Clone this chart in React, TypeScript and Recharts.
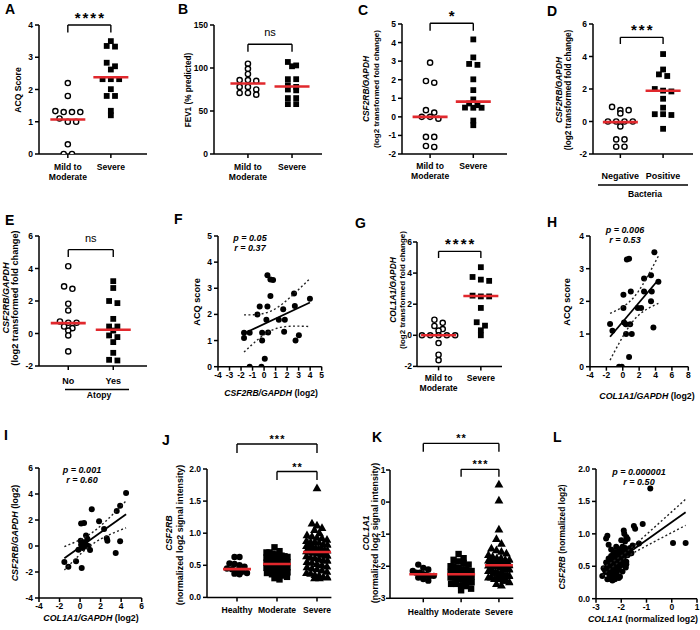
import React from "react";
import { ScatterChart, Scatter, XAxis, YAxis, ReferenceLine, ReferenceDot } from "recharts";

const FONT = '"Liberation Sans", Arial, Helvetica, sans-serif';
const RED = "#e1282d";
const AXIS = { stroke: "#000", strokeWidth: 1.5 };
const TICK = { fill: "#000", fontSize: 8.5, fontWeight: 700, fontFamily: FONT };

// category names
const sevCats = ["Mild to\nModerate", "Severe"];
const bacCats = ["Negative", "Positive"];
const atoCats = ["No", "Yes"];
const cohortCats = ["Healthy", "Moderate", "Severe"];

// A - ACQ score
const acqMild = [2.2, 1.8, 1.33, 1.3, 1.3, 1.3, 1.1, 1.0, 1.0, 0.3, 0, 0];
const acqSevere = [3.5, 3.35, 3.33, 2.83, 2.72, 2.62, 2.32, 2.32, 2.32, 2.01, 1.8, 1.8, 1.34, 1.2];
const acqMedian = [1.07, 2.38];

// B - FEV1 % predicted
const fevMild = [105, 99, 93, 86, 85, 86, 78, 78, 75, 71, 71, 69];
const fevSevere = [107, 103, 102, 87, 87, 80, 78, 75, 74, 65, 65, 58, 58];
const fevMedian = [82, 78.5];

// C - CSF2RB by severity
const csfMild = [2.92, 1.93, 1.84, 0.36, 0.23, 0, -0.1, 0, -1.08, -1.08, -1.57, -1.62];
const csfSevere = [4.17, 3.2, 2.85, 2.8, 2.02, 1.44, 0.94, 0.72, 0.63, 0.5, 0.49, 0.49, -0.2, -0.45];
const csfMedian = [0, 0.82];

// D - CSF2RB by bacteria
const bacNeg = [0.9, 0.7, 0.7, 0.5, 0, 0, 0, 0, -0.3, -1.1, -1.1, -1.55, -1.55];
const bacPos = [4.15, 3.2, 2.9, 2.8, 2.0, 1.9, 1.85, 1.4, 0.85, 0.45, 0.4, 0.45, -0.45];
const bacMedian = [-0.04, 1.89];

// E - CSF2RB by atopy
const atoNo = [4.14, 2.9, 2.75, 1.83, 1.42, 0.74, 0.66, 0.66, 0.43, 0.33, 0.18, -0.12, -1.1];
const atoYes = [3.22, 2.8, 2.0, 1.87, 0.9, 0.43, 0.43, 0.18, -0.12, -0.22, -0.53, -1.19, -1.62, -1.66];
const atoMedian = [0.64, 0.23];

// F - ACQ vs CSF2RB
const fX = [-1.74, -1.74, -1.25, -1.25, -0.58, -0.38, -0.17, -0.17, -0.23, 0.06, 0.29, 0.55, 0.78, 0.55, 0.29, 0.2, 0.35, 1.28, 1.66, 1.8, 1.74, 2.6, 2.67, 2.73, 3.02, 3.98];
const fY = [1.3, 1.1, 1.3, 0, 2.0, 2.3, 1.3, 1.0, 0, 0.3, 3.5, 3.34, 3.32, 2.7, 2.3, 1.8, 1.31, 1.8, 2.2, 1.8, 1.34, 2.8, 2.32, 1.0, 1.2, 2.6];

// G - COL1A1 by severity
const colMild = [1.0, 0.8, 0.6, 0.4, 0.3, 0, 0, 0, 0, 0, -0.5, -1.25, -1.6];
const colSevere = [4.38, 3.75, 3.58, 3.5, 2.55, 2.5, 2.5, 1.76, 0.84, 0.62, 0.32, 0];
const colMedian = [0, 2.53];

// H - ACQ vs COL1A1
const hX = [-1.55, -1.26, -0.45, -0.12, 0.08, 0.08, 0.16, 0.37, 0.5, 0.77, 0.9, 0.98, 0.4, 1.1, 0.77, 1.83, 2.24, 2.6, 2.6, 3.45, 3.54, 3.45, 3.74, 3.86, 4.35];
const hY = [1.31, 1.1, 0, 0, 2.2, 1.8, 1.35, 1.3, 3.28, 3.3, 1.3, 2.3, 1.0, 1.0, 0.3, 1.8, 1.8, 2.7, 2.3, 2.8, 2.3, 2.0, 1.2, 3.5, 2.6];

// I - CSF2RB vs COL1A1
const iX = [-1.53, -1.14, -0.39, 0.16, 0.1, 0.39, 1.14, 0.06, 0.1, 0.26, 0.58, 0.71, 0.58, 0.81, 0.97, 0.7, 1.85, 2.34, 2.6, 2.66, 3.47, 3.57, 3.9, 3.9, 4.48, 0.4, -0.16];
const iY = [-1.23, -1.6, -1.18, -1.7, 1.74, 1.77, 2.82, 0.4, 0.1, -0.15, 0.8, 0.56, 0.1, 0, -0.3, -0.03, 1.9, 1.3, 0.6, 0.4, -0.54, 2.7, 3.1, 0.36, 4.07, 0.28, -0.28];

// J / K / L - microarray cohort, one entry per subject (same order in j* and k*)
const jHealthy = [0.63, 0.63, 0.53, 0.52, 0.5, 0.48, 0.45, 0.44, 0.42, 0.4, 0.38, 0.37, 0.36];
const kHealthy = [-2.05, -2.15, -1.95, -2.2, -2.3, -2.1, -2.25, -2.35, -2.4, -2.2, -2.45, -2.3, -2.28];
const jModerate = [0.78, 0.72, 0.7, 0.7, 0.68, 0.67, 0.66, 0.65, 0.64, 0.63, 0.62, 0.61, 0.6, 0.6, 0.58, 0.57, 0.56, 0.55, 0.54, 0.53, 0.53, 0.52, 0.52, 0.51, 0.5, 0.5, 0.49, 0.48, 0.47, 0.46, 0.45, 0.45, 0.44, 0.43, 0.42, 0.41, 0.4, 0.39, 0.38, 0.36, 0.35, 0.34, 0.32, 0.3, 0.28];
const kModerate = [-1.85, -2.0, -1.62, -2.3, -1.75, -2.1, -2.4, -1.9, -2.2, -2.05, -2.5, -1.95, -2.25, -2.15, -2.35, -2.0, -2.6, -2.1, -2.28, -1.8, -2.45, -2.2, -2.32, -2.05, -2.55, -2.27, -2.15, -2.38, -2.7, -2.25, -2.1, -2.42, -2.3, -2.5, -2.2, -2.62, -2.35, -2.18, -2.48, -2.3, -2.75, -2.4, -2.27, -2.55, -2.35];
const jSevere = [1.7, 1.15, 1.12, 1.08, 1.05, 1.0, 0.97, 0.95, 0.93, 0.92, 0.9, 0.88, 0.86, 0.86, 0.85, 0.83, 0.82, 0.8, 0.8, 0.78, 0.77, 0.76, 0.75, 0.74, 0.73, 0.72, 0.72, 0.71, 0.7, 0.7, 0.7, 0.69, 0.68, 0.67, 0.66, 0.65, 0.64, 0.62, 0.61, 0.6, 0.58, 0.57, 0.55, 0.54, 0.52, 0.5, 0.48, 0.47, 0.45, 0.44, 0.42, 0.4, 0.38, 0.37, 0.35, 0.34, 0.32, 0.31, 0.3, 0.3];
const kSevere = [-0.85, -1.15, -1.5, -1.45, -1.9, -1.88, -2.55, -1.8, -2.6, -1.75, -2.0, -1.85, 0.55, 0.05, -1.3, -2.5, -1.55, -1.95, -2.2, -1.65, -2.0, -2.4, -1.9, -1.7, -2.1, -1.97, -2.25, -1.85, -1.93, -1.6, -2.3, -1.95, -2.15, -1.75, -2.0, -2.35, -1.9, -2.2, -1.98, -2.45, -1.96, -1.8, -2.25, -2.1, -1.92, -2.4, -1.82, -2.3, -2.15, -2.15, -1.95, -2.35, -2.3, -2.2, -2.45, -2.05, -2.1, -2.3, -2.4, -2.25];
const jMedian = [0.44, 0.52, 0.706];
const kMedian = [-2.25, -2.25, -1.97];

const lX = [...kHealthy, ...kModerate, ...kSevere];
const lY = [...jHealthy, ...jModerate, ...jSevere];

type Marker = "open" | "square" | "dot" | "tri";

const marker = (kind: Marker, s: number) => (p: any) => {
  const { cx, cy } = p;
  if (kind === "open") return <circle cx={cx} cy={cy} r={s / 2 - 0.3} fill="#fff" stroke="#000" strokeWidth={1.4} />;
  if (kind === "square") return <rect x={cx - s / 2} y={cy - s / 2} width={s} height={s} fill="#000" />;
  if (kind === "tri")
    return <polygon points={`${cx},${cy - s * 0.62} ${cx - s * 0.58},${cy + s * 0.4} ${cx + s * 0.58},${cy + s * 0.4}`} fill="#000" />;
  return <circle cx={cx} cy={cy} r={s / 2} fill="#000" />;
};
const noShape = () => <g />;

// GraphPad-like column scatter: points close in y share a row and spread sideways
function swarm(values: number[], center: number, yPx: number, xPx: number, o: any) {
  const v = [...values].sort((a, b) => b - a);
  const out: { x: number; y: number }[] = [];
  let i = 0;
  while (i < v.length) {
    let j = i;
    while (j + 1 < v.length && (v[i] - v[j + 1]) * yPx < o.thresh) j++;
    const n = j - i + 1;
    const step = n > 1 ? Math.min(o.gap, (2 * o.maxHalf) / (n - 1)) : 0;
    for (let k = 0; k < n; k++) out.push({ x: center + ((k - (n - 1) / 2) * step) / xPx, y: v[i + k] });
    i = j + 1;
  }
  return out;
}

function linFit(xs: number[], ys: number[]) {
  const n = xs.length;
  const mx = xs.reduce((a, b) => a + b, 0) / n;
  const my = ys.reduce((a, b) => a + b, 0) / n;
  let sxx = 0, sxy = 0;
  xs.forEach((x, i) => { sxx += (x - mx) ** 2; sxy += (x - mx) * (ys[i] - my); });
  const b = sxy / sxx, a = my - b * mx;
  let sse = 0;
  xs.forEach((x, i) => { sse += (ys[i] - a - b * x) ** 2; });
  const s = Math.sqrt(sse / (n - 2));
  const t = 1.96 + 2.4 / (n - 2);
  const x0 = Math.min(...xs), x1 = Math.max(...xs);
  const upper = [], lower = [];
  for (let k = 0; k <= 40; k++) {
    const x = x0 + ((x1 - x0) * k) / 40;
    const se = s * Math.sqrt(1 / n + (x - mx) ** 2 / sxx);
    upper.push({ x, y: a + b * x + t * se });
    lower.push({ x, y: a + b * x - t * se });
  }
  return { line: [{ x: x0, y: a + b * x0 }, { x: x1, y: a + b * x1 }], upper, lower };
}

const catTick = (cats: string[], dy: number, fs: number) => (t: any) => {
  const lines = (cats[Math.round(t.payload.value)] || "").split("\n");
  return (
    <text x={t.x} y={t.y} textAnchor="middle" fontFamily={FONT} fontSize={fs} fontWeight={700} fill="#000">
      {lines.map((l, k) => (
        <tspan key={k} x={t.x} dy={k === 0 ? dy : 10}>{l}</tspan>
      ))}
    </text>
  );
};

const bracketText = (label: string, small: boolean) => (p: any) => {
  const ns = label === "ns";
  return (
    <text x={p.cx + (ns ? 0 : small ? 0.5 : 1)} y={p.cy - (ns ? 8 : small ? 1 : 2)} textAnchor="middle" fontFamily={FONT}
      fontSize={ns ? 11 : small ? 11 : 15} fontWeight={ns ? 400 : 700} letterSpacing={ns ? 0 : small ? 1 : 2} fill="#000">
      {label}
    </text>
  );
};

type Bracket = { from: number; to: number; top: number; leg: number; label: string };
type Group = { values: number[]; marker: Marker; median: number };

function frame(box: number[]) {
  const [L, T, R, B] = box;
  const padL = 34, padT = 48, padB = 34, padR = Math.min(6, 700 - R);
  return { L, T, R, B, padL, padT, padB, padR, W: R - L + padL + padR, H: B - T + padT + padB };
}

function DotPanel(p: {
  box: number[]; xDomain: number[]; yDomain: number[]; yTicks: number[]; fmt?: (v: number) => string;
  cats: string[]; groups: Group[]; brackets: Bracket[]; dense?: boolean; catDy: number; catSize?: number; tickGap?: number;
}) {
  const f = frame(p.box);
  const yPx = (f.B - f.T) / (p.yDomain[1] - p.yDomain[0]);
  const xPx = (f.R - f.L) / (p.xDomain[1] - p.xDomain[0]);
  const o = p.dense
    ? { gap: 5, thresh: 5, maxHalf: 10.5, half: 14, size: 6.4 }
    : { gap: 8.3, thresh: 4, maxHalf: 20, half: 17.5, size: 5.8 };
  const items: React.ReactElement[] = [];
  p.groups.forEach((g, i) => {
    items.push(
      <Scatter key={`g${i}`} data={swarm(g.values, i, yPx, xPx, o)} shape={marker(g.marker, g.marker === "tri" ? 7.6 : o.size)} isAnimationActive={false} />
    );
  });
  p.groups.forEach((g, i) => {
    const h = o.half / xPx;
    items.push(
      <Scatter key={`m${i}`} data={[{ x: i - h, y: g.median }, { x: i + h, y: g.median }]} line={{ stroke: RED, strokeWidth: 2.6 }} shape={noShape} isAnimationActive={false} />
    );
  });
  p.brackets.forEach((b, i) => {
    const ln = { stroke: "#000", strokeWidth: 1.4, ifOverflow: "visible" as const };
    items.push(<ReferenceLine key={`bt${i}`} segment={[{ x: b.from, y: b.top }, { x: b.to, y: b.top }]} {...ln} />);
    items.push(<ReferenceLine key={`bl${i}`} segment={[{ x: b.from, y: b.top }, { x: b.from, y: b.leg }]} {...ln} />);
    items.push(<ReferenceLine key={`br${i}`} segment={[{ x: b.to, y: b.top }, { x: b.to, y: b.leg }]} {...ln} />);
    items.push(
      <ReferenceDot key={`bd${i}`} x={(b.from + b.to) / 2} y={b.top} r={0} ifOverflow="visible" shape={bracketText(b.label, !!p.dense)} />
    );
  });
  return (
    <div style={{ position: "absolute", left: f.L - f.padL, top: f.T - f.padT }}>
      <ScatterChart width={f.W} height={f.H} margin={{ top: f.padT, right: f.padR, bottom: 0, left: 0 }}>
        <XAxis type="number" dataKey="x" domain={p.xDomain} ticks={p.cats.map((_, i) => i)} allowDataOverflow interval={0}
          height={f.padB} tickSize={4} tickMargin={0} tick={catTick(p.cats, p.catDy, p.catSize || 8.6)} axisLine={AXIS} tickLine={AXIS} />
        <YAxis type="number" dataKey="y" domain={p.yDomain} ticks={p.yTicks} allowDataOverflow interval={0}
          width={f.padL} tickSize={4} tickMargin={p.tickGap ?? 2} tick={TICK} tickFormatter={p.fmt} axisLine={AXIS} tickLine={AXIS} />
        {items}
      </ScatterChart>
    </div>
  );
}

function RegPanel(p: {
  box: number[]; xDomain: number[]; yDomain: number[]; xTicks: number[]; yTicks: number[];
  xs: number[]; ys: number[]; fmt?: (v: number) => string; r?: number;
}) {
  const f = frame(p.box);
  const fit = linFit(p.xs, p.ys);
  const pts = p.xs.map((x, i) => ({ x, y: p.ys[i] }));
  const dotted = { stroke: "#222", strokeWidth: 1.4, strokeDasharray: "2 2.4" };
  return (
    <div style={{ position: "absolute", left: f.L - f.padL, top: f.T - f.padT }}>
      <ScatterChart width={f.W} height={f.H} margin={{ top: f.padT, right: f.padR, bottom: 0, left: 0 }}>
        <XAxis type="number" dataKey="x" domain={p.xDomain} ticks={p.xTicks} allowDataOverflow interval={0}
          height={f.padB} tickSize={4} tickMargin={1} tick={TICK} axisLine={AXIS} tickLine={AXIS} />
        <YAxis type="number" dataKey="y" domain={p.yDomain} ticks={p.yTicks} allowDataOverflow interval={0}
          width={f.padL} tickSize={4} tickMargin={2} tick={TICK} tickFormatter={p.fmt} axisLine={AXIS} tickLine={AXIS} />
        <Scatter data={pts} shape={marker("dot", p.r || 6)} isAnimationActive={false} />
        <Scatter data={fit.upper} line={dotted} shape={noShape} isAnimationActive={false} />
        <Scatter data={fit.lower} line={dotted} shape={noShape} isAnimationActive={false} />
        <Scatter data={fit.line} line={{ stroke: "#000", strokeWidth: 1.8 }} shape={noShape} isAnimationActive={false} />
      </ScatterChart>
    </div>
  );
}

const one = (v: number) => v.toFixed(1);

function VLab({ x, y, size = 8.6, children }: { x: number; y: number; size?: number; children: React.ReactNode }) {
  return (
    <text x={x} y={y} transform={`rotate(-90 ${x} ${y})`} textAnchor="middle" fontSize={size}>
      {children}
    </text>
  );
}
const It = ({ children }: { children: React.ReactNode }) => <tspan fontStyle="italic">{children}</tspan>;

function Overlay() {
  const letters: [string, number, number][] = [
    ["A", 5, 14], ["B", 178, 14], ["C", 358, 15], ["D", 547, 16],
    ["E", 5, 225], ["F", 174, 224], ["G", 355, 228], ["H", 547, 227],
    ["I", 4, 440], ["J", 162, 445], ["K", 372, 442], ["L", 553, 442],
  ];
  const stat = (x: number, y: number, a: string, b: string) => (
    <g fontStyle="italic" fontSize={9} textAnchor="middle">
      <text x={x} y={y}>{a}</text>
      <text x={x} y={y + 10}>{b}</text>
    </g>
  );
  return (
    <svg width={700} height={630} style={{ position: "absolute", left: 0, top: 0, pointerEvents: "none" }}
      fontFamily={FONT} fontWeight={700} fill="#000">
      {letters.map(([t, x, y]) => (
        <text key={t} x={x} y={y} fontSize={14}>{t}</text>
      ))}
      <VLab x={21} y={90}>ACQ Score</VLab>
      <VLab x={191} y={90} size={8.2}>FEV1 (% predicted)</VLab>
      <VLab x={369} y={89} size={8.4}><It>CSF2RB/GAPDH</It></VLab>
      <VLab x={379} y={89} size={8}>(log2 transformed fold change)</VLab>
      <VLab x={562} y={90} size={8.4}><It>CSF2RB/GAPDH</It></VLab>
      <VLab x={571} y={90} size={8.2}>(log2 transformed fold change)</VLab>
      <VLab x={9} y={298} size={9}><It>CSF2RB/GAPDH</It></VLab>
      <VLab x={18} y={298} size={9.2}>(log2 transformed fold change)</VLab>
      <VLab x={200} y={302} size={9.2}>ACQ score</VLab>
      <VLab x={396} y={290} size={8.4}><It>COL1A1/GAPDH</It></VLab>
      <VLab x={405} y={290} size={8}>(log2 transformed fold change)</VLab>
      <VLab x={570} y={302} size={9.2}>ACQ score</VLab>
      <VLab x={18} y={533} size={8.9}><It>CSF2RB/GAPDH</It> (log2)</VLab>
      <VLab x={172} y={533} size={8.9}><It>CSF2RB</It></VLab>
      <VLab x={183} y={535} size={8.9}>(normalized log2 signal intensity)</VLab>
      <VLab x={369} y={533} size={8.9}><It>COL1A1</It></VLab>
      <VLab x={378} y={533} size={8.9}>(normalized log2 signal intensity)</VLab>
      <VLab x={565} y={537} size={8.4}><It>CSF2RB</It> (normalized log2)</VLab>

      <text x={271} y={396} textAnchor="middle" fontSize={8.6}><It>CSF2RB/GAPDH</It> (log2)</text>
      <text x={647} y={399} textAnchor="middle" fontSize={8.8}><It>COL1A1/GAPDH</It> (log2)</text>
      <text x={91} y={621} textAnchor="middle" fontSize={8.8}><It>COL1A1/GAPDH</It> (log2)</text>
      <text x={643} y={622} textAnchor="middle" fontSize={8.8}><It>COL1A1</It> (normalized log2)</text>

      <line x1={598} x2={688} y1={185} y2={185} stroke="#000" strokeWidth={1.3} />
      <text x={645} y={197} textAnchor="middle" fontSize={8.6}>Bacteria</text>
      <line x1={65} x2={129} y1={389.5} y2={389.5} stroke="#000" strokeWidth={1.3} />
      <text x={99} y={398} textAnchor="middle" fontSize={8.6}>Atopy</text>

      {stat(250, 241, "p = 0.05", "r = 0.37")}
      {stat(625, 233, "p = 0.006", "r = 0.53")}
      {stat(82, 473, "p = 0.001", "r = 0.60")}
      {stat(639, 475, "p = 0.000001", "r = 0.50")}
    </svg>
  );
}

export default function App() {
  return (
    <div style={{ position: "relative", width: 700, height: 630, background: "#fff", overflow: "hidden", fontFamily: FONT }}>
      <style>{`html,body{margin:0;padding:0;background:#fff;overflow:hidden;}`}</style>
      <DotPanel box={[39, 25, 147, 154]} xDomain={[-0.67, 1.84]} yDomain={[0, 4]} yTicks={[0, 1, 2, 3, 4]} cats={sevCats} catDy={12}
        groups={[{ values: acqMild, marker: "open", median: acqMedian[0] }, { values: acqSevere, marker: "square", median: acqMedian[1] }]}
        brackets={[{ from: 0, to: 1, top: 4.0, leg: 3.77, label: "****" }]} />
      <DotPanel box={[214, 25, 322, 154]} xDomain={[-0.77, 1.68]} yDomain={[0, 150]} yTicks={[0, 50, 100, 150]} cats={sevCats} catDy={12}
        groups={[{ values: fevMild, marker: "open", median: fevMedian[0] }, { values: fevSevere, marker: "square", median: fevMedian[1] }]}
        brackets={[{ from: 0, to: 1, top: 127.6, leg: 119, label: "ns" }]} />
      <DotPanel box={[402, 24, 507, 154]} xDomain={[-0.65, 1.78]} yDomain={[-2, 5]} yTicks={[-2, -1, 0, 1, 2, 3, 4, 5]} cats={sevCats} catDy={11.3}
        groups={[{ values: csfMild, marker: "open", median: csfMedian[0] }, { values: csfSevere, marker: "square", median: csfMedian[1] }]}
        brackets={[{ from: 0, to: 1, top: 5.04, leg: 4.64, label: "*" }]} />
      <DotPanel box={[593, 24, 693, 154]} xDomain={[-0.64, 1.7]} yDomain={[-2, 6]} yTicks={[-2, 0, 2, 4, 6]} cats={bacCats} catDy={21} catSize={9}
        groups={[{ values: bacNeg, marker: "open", median: bacMedian[0] }, { values: bacPos, marker: "square", median: bacMedian[1] }]}
        brackets={[{ from: 0, to: 1, top: 5.18, leg: 4.77, label: "***" }]} />
      <DotPanel box={[39, 235.7, 147, 365.7]} xDomain={[-0.65, 1.75]} yDomain={[-2, 6]} yTicks={[-2, 0, 2, 4, 6]} cats={atoCats} catDy={13.5} catSize={9}
        groups={[{ values: atoNo, marker: "open", median: atoMedian[0] }, { values: atoYes, marker: "square", median: atoMedian[1] }]}
        brackets={[{ from: 0, to: 1, top: 5.16, leg: 4.71, label: "ns" }]} />
      <RegPanel box={[218, 236, 321.7, 366.7]} xDomain={[-4, 5]} yDomain={[0, 5]} xTicks={[-4, -3, -2, -1, 0, 1, 2, 3, 4, 5]} yTicks={[0, 1, 2, 3, 4, 5]} xs={fX} ys={fY} />
      <DotPanel box={[416.7, 242.3, 501.7, 366.7]} xDomain={[-0.51, 1.5]} yDomain={[-2, 6]} yTicks={[-2, 0, 2, 4, 6]} cats={sevCats} catDy={11} tickGap={1}
        groups={[{ values: colMild, marker: "open", median: colMedian[0] }, { values: colSevere, marker: "square", median: colMedian[1] }]}
        brackets={[{ from: 0, to: 1, top: 5.4, leg: 4.97, label: "****" }]} />
      <RegPanel box={[590, 236, 688.3, 366.7]} xDomain={[-4, 8]} yDomain={[0, 4]} xTicks={[-4, -2, 0, 2, 4, 6, 8]} yTicks={[0, 1, 2, 3, 4]} xs={hX} ys={hY} />
      <RegPanel box={[39, 468.3, 141.7, 598.3]} xDomain={[-4, 6]} yDomain={[-4, 6]} xTicks={[-4, -2, 0, 2, 4, 6]} yTicks={[-4, -2, 0, 2, 4, 6]} xs={iX} ys={iY} />
      <DotPanel box={[207.3, 469.3, 331.7, 597.7]} xDomain={[-0.75, 2.36]} yDomain={[0, 2]} yTicks={[0, 0.5, 1, 1.5, 2]} fmt={one} cats={cohortCats} catDy={12} dense
        groups={[{ values: jHealthy, marker: "dot", median: jMedian[0] }, { values: jModerate, marker: "square", median: jMedian[1] }, { values: jSevere, marker: "tri", median: jMedian[2] }]}
        brackets={[{ from: 0, to: 2, top: 2.39, leg: 2.25, label: "***" }, { from: 1, to: 2, top: 1.96, leg: 1.83, label: "**" }]} />
      <DotPanel box={[390, 470, 513.3, 598.3]} xDomain={[-0.88, 2.38]} yDomain={[-3, 1]} yTicks={[-3, -2, -1, 0, 1]} cats={cohortCats} catDy={12.7} dense tickGap={0.5}
        groups={[{ values: kHealthy, marker: "dot", median: kMedian[0] }, { values: kModerate, marker: "square", median: kMedian[1] }, { values: kSevere, marker: "tri", median: kMedian[2] }]}
        brackets={[{ from: 0, to: 2, top: 1.83, leg: 1.57, label: "**" }, { from: 1, to: 2, top: 1.02, leg: 0.79, label: "***" }]} />
      <RegPanel box={[595.7, 469, 696.7, 598.7]} xDomain={[-3, 1]} yDomain={[0, 2]} xTicks={[-3, -2, -1, 0, 1]} yTicks={[0, 0.5, 1, 1.5, 2]} fmt={one} xs={lX} ys={lY} />
      <Overlay />
    </div>
  );
}
